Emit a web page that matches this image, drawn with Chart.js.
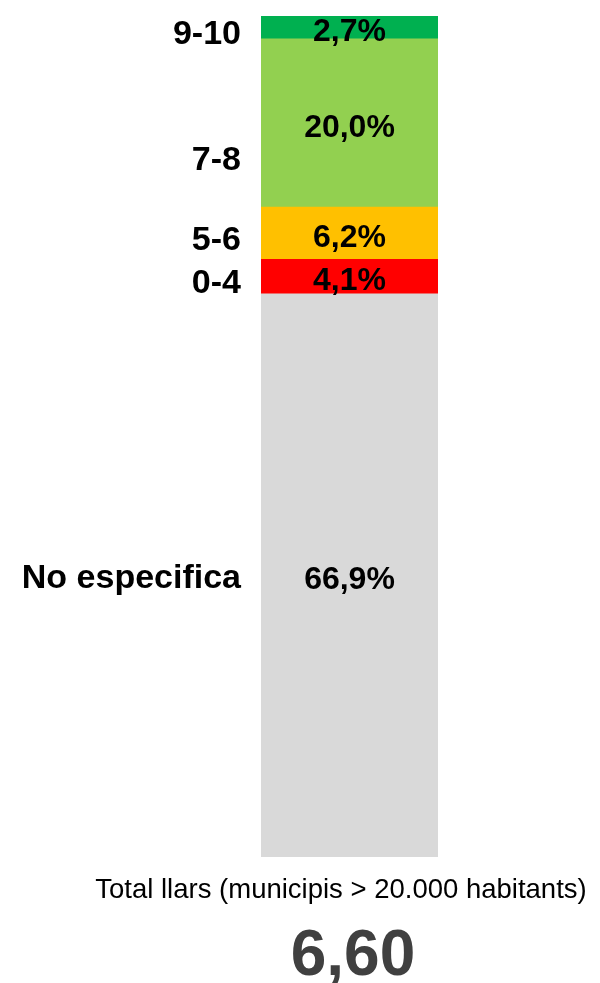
<!DOCTYPE html>
<html lang="ca">
<head>
<meta charset="utf-8">
<title>Total llars</title>
<script src="https://cdn.jsdelivr.net/npm/chart.js"></script>
<style>
  html, body { margin: 0; padding: 0; background: #fff; }
  #wrap { position: relative; width: 600px; height: 983px; }
</style>
</head>
<body>
<div id="wrap"><canvas id="myChart"></canvas></div>
<script>
// trams de nota, de baix a dalt de la barra
const categories = ['No especifica', '0-4', '5-6', '7-8', '9-10'];
const shares = [66.9, 4.1, 6.2, 20.0, 2.7];
const colors = ['#D9D9D9', '#FF0000', '#FFC000', '#92D050', '#00B050'];
const subtitle = 'Total llars (municipis > 20.000 habitants)';
const meanScore = 6.60;

const total = shares.reduce((s, v) => s + v, 0);
const fmt = v => v.toFixed(1).replace('.', ',') + '%';

// etiquetes: noms a l'esquerra, percentatges dins la barra, text de sota
const labelsPlugin = {
  id: 'labels',
  afterDraw(chart) {
    const ctx = chart.ctx;
    const y = chart.scales.y;
    const area = chart.chartArea;
    const nudge = { '7-8': 31, 'No especifica': -4 };
    ctx.save();
    ctx.textBaseline = 'middle';
    let base = 0;
    shares.forEach((v, i) => {
      const mid = y.getPixelForValue(base + v / 2);
      base += v;
      ctx.fillStyle = '#000';
      ctx.font = 'bold 32px "Liberation Sans", Arial, sans-serif';
      ctx.textAlign = 'center';
      ctx.fillText(fmt(v), (area.left + area.right) / 2, mid + 5);
      ctx.font = 'bold 34px "Liberation Sans", Arial, sans-serif';
      ctx.textAlign = 'right';
      ctx.fillText(categories[i], area.left - 20, mid + 7 + (nudge[categories[i]] || 0));
    });
    ctx.textAlign = 'center';
    ctx.fillStyle = '#000';
    ctx.font = '27.5px "Liberation Sans", Arial, sans-serif';
    ctx.fillText(subtitle, 341, 890);
    ctx.fillStyle = '#404040';
    ctx.font = 'bold 64px "Liberation Sans", Arial, sans-serif';
    ctx.fillText(meanScore.toFixed(2).replace('.', ','), 353, 957);
    ctx.restore();
  }
};

const ctx = document.getElementById('myChart').getContext('2d');
const myChart = new Chart(ctx, {
  type: 'bar',
  data: {
    labels: ['Total'],
    datasets: shares.map((v, i) => ({
      label: categories[i],
      data: [v],
      backgroundColor: colors[i],
      borderWidth: 0,
      barPercentage: 1,
      categoryPercentage: 1
    }))
  },
  options: {
    responsive: true,
    maintainAspectRatio: false,
    animation: false,
    layout: { padding: { left: 261, right: 162, top: 16, bottom: 126 } },
    plugins: { legend: { display: false }, tooltip: { enabled: false } },
    scales: {
      x: { stacked: true, display: false },
      y: { stacked: true, display: false, min: 0, max: total }
    }
  },
  plugins: [labelsPlugin]
});
</script>
</body>
</html>
